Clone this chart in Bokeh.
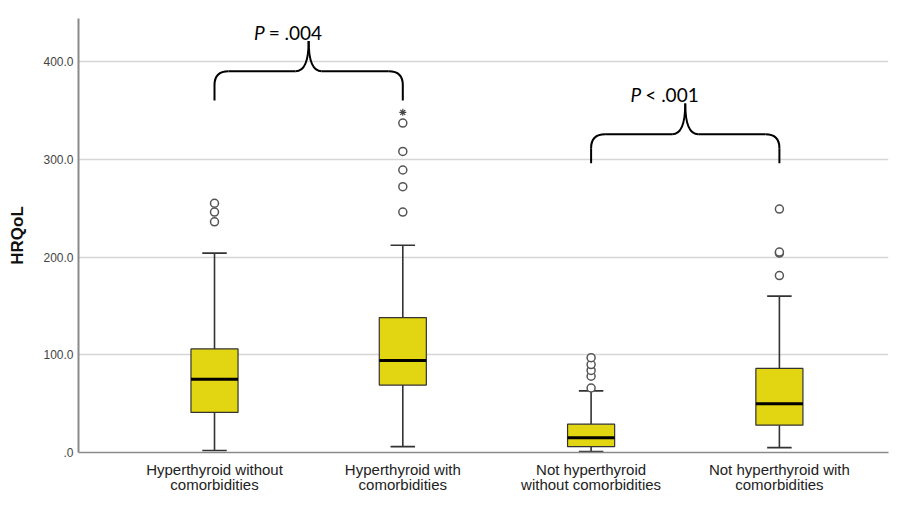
import numpy as np
from bokeh.plotting import figure
from bokeh.models import FixedTicker, Range1d, LinearAxis
from bokeh.core.properties import value
from bokeh.embed import file_html
from bokeh.resources import INLINE

# ---- data ----
categories_line1 = ["Hyperthyroid without", "Hyperthyroid with", "Not hyperthyroid", "Not hyperthyroid with"]
categories_line2 = ["comorbidities", "comorbidities", "without comorbidities", "comorbidities"]
q1 = [41, 69, 6, 28]
median = [75, 94, 15, 50]
q3 = [106, 138, 29, 86]
whisker_low = [2, 6, 1, 5]
whisker_high = [204, 212, 63, 160]
outliers = [[236, 246, 255], [246, 272, 289, 308, 337], [66, 78, 84, 90, 97], [181, 204, 205, 249]]
extremes = [[], [348], [], []]

y_ticks = [0, 100, 200, 300, 400]
y_tick_labels = [".0", "100.0", "200.0", "300.0", "400.0"]

brace_left = [1, 3]
brace_right = [2, 4]
brace_bottom = [360, 296]
brace_mid = [390, 325.5]
brace_tip = [421, 357]
p_symbol = ["P", "P"]
p_text = ["= .004", "< .001"]

# ---- figure ----
FONT = "Liberation Sans"
xs = np.arange(1, len(categories_line1) + 1, dtype=float)
X0, X1 = 0.2777, 4.5794
FRAME_W, FRAME_H = 810, 440
Y0, Y1 = 0, 444

p = figure(width=890, height=495, x_range=Range1d(X0, X1), y_range=Range1d(Y0, Y1),
           output_backend="svg", toolbar_location=None,
           min_border_left=78, min_border_right=2, min_border_top=18, min_border_bottom=0)
p.outline_line_color = None
p.background_fill_color = "white"
p.border_fill_color = "white"

p.xgrid.visible = False
p.ygrid.ticker = FixedTicker(ticks=y_ticks)
p.ygrid.grid_line_color = "#d6d6d6"
p.ygrid.grid_line_width = 1.5

yax = p.yaxis[0]
yax.ticker = FixedTicker(ticks=y_ticks)
yax.major_label_overrides = {t: l for t, l in zip(y_ticks, y_tick_labels)}
yax.axis_label = "HRQoL"
yax.axis_label_text_font = FONT
yax.axis_label_text_font_style = "bold"
yax.axis_label_text_font_size = "17px"
yax.axis_label_text_color = "#111111"
yax.axis_label_standoff = 13
yax.major_label_text_font = FONT
yax.major_label_text_font_size = "12px"
yax.major_label_text_color = "#444444"
yax.major_label_standoff = 5
yax.major_tick_out = 0
yax.major_tick_in = 0
yax.minor_tick_line_color = None
yax.axis_line_color = "#8a8a8a"
yax.axis_line_width = 2


def style_x(ax, labels, standoff):
    ax.ticker = FixedTicker(ticks=list(xs))
    ax.major_label_overrides = {float(x): t for x, t in zip(xs, labels)}
    ax.major_label_text_font = FONT
    ax.major_label_text_font_size = "15px"
    ax.major_label_text_color = "#222222"
    ax.major_label_standoff = standoff
    ax.major_tick_out = 0
    ax.major_tick_in = 0
    ax.minor_tick_line_color = None


xax = p.xaxis[0]
style_x(xax, categories_line1, 8)
xax.axis_line_color = "#8a8a8a"
xax.axis_line_width = 1.5

xax2 = LinearAxis()
style_x(xax2, categories_line2, -5)
xax2.axis_line_color = None
p.add_layout(xax2, "below")

# ---- boxes ----
py = (Y1 - Y0) / FRAME_H
box_w = 0.25
cap_w = 0.13
dark = "#333333"
p.segment(x0=xs, x1=xs, y0=q3, y1=whisker_high, line_color=dark, line_width=1.6)
p.segment(x0=xs, x1=xs, y0=q1, y1=whisker_low, line_color=dark, line_width=1.6)
p.segment(x0=xs - cap_w / 2, x1=xs + cap_w / 2, y0=whisker_high, y1=whisker_high, line_color=dark, line_width=1.6)
p.segment(x0=xs - cap_w / 2, x1=xs + cap_w / 2, y0=whisker_low, y1=whisker_low, line_color=dark, line_width=1.6)
p.vbar(x=xs, width=box_w, bottom=q1, top=q3, fill_color="#e2d512", line_color=dark, line_width=1.2)
p.segment(x0=xs - box_w / 2, x1=xs + box_w / 2, y0=median, y1=median, line_color="black", line_width=3)

ox = [x for x, o in zip(xs, outliers) for _ in o]
oy = [v for o in outliers for v in o]
p.scatter(ox, oy, marker="circle", size=8, fill_color="white", line_color="#555555", line_width=1.5)
ex = [x for x, o in zip(xs, extremes) for _ in o]
ey = [v for o in extremes for v in o]
p.scatter(ex, ey, marker="asterisk", size=7, line_color="#444444", line_width=1.2)

# ---- braces ----
px_x = (X1 - X0) / FRAME_W
rx = 14 * px_x
ry = 14 * py
cx = 13 * px_x
for xl, xr, yb, yh, yt, sym, txt in zip(brace_left, brace_right, brace_bottom, brace_mid, brace_tip, p_symbol, p_text):
    xc = (xl + xr) / 2
    p.multi_line(xs=[[xl, xl], [xr, xr], [xl + rx, xc - cx], [xc + cx, xr - rx]],
                 ys=[[yb, yh - ry], [yb, yh - ry], [yh, yh], [yh, yh]],
                 line_color="black", line_width=2)
    p.quadratic(x0=[xl, xr, xc - cx, xc + cx], y0=[yh - ry, yh - ry, yh, yh],
                x1=[xl + rx, xr - rx, xc, xc], y1=[yh, yh, yt, yt],
                cx=[xl, xr, xc, xc], cy=[yh, yh, yh, yh],
                line_color="black", line_width=2)
    ax = xc - 44 * px_x
    p.text(x=[ax], y=[yt + 9 * py], text=[sym], text_font=value("Lato"), text_font_style="italic",
           text_font_size="19px", text_align="right", text_baseline="alphabetic", text_color="black")
    p.text(x=[ax], y=[yt + 9 * py], text=[txt], x_offset=4, text_font=value("Lato"),
           text_font_size="19px", text_align="left", text_baseline="alphabetic", text_color="black")

open("out.html", "w").write(file_html(p, INLINE))
